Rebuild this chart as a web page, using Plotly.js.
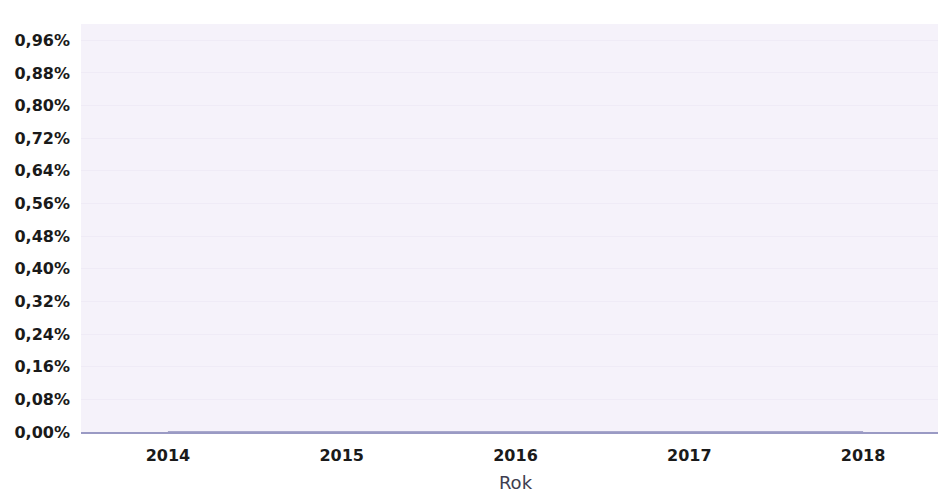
<!DOCTYPE html>
<html>
<head>
<meta charset="utf-8">
<script src="https://cdn.plot.ly/plotly-3.0.1.min.js"></script>
<style>html,body{margin:0;padding:0;background:#fff;overflow:hidden;}#chart{width:950px;height:500px;}</style>
</head>
<body>
<div id="chart"></div>
<script>
var years = ['2014', '2015', '2016', '2017', '2018'];
var values = [0, 0, 0, 0, 0];
var yTickVals = [0, 0.0008, 0.0016, 0.0024, 0.0032, 0.004, 0.0048, 0.0056, 0.0064, 0.0072, 0.008, 0.0088, 0.0096];
var xTitle = 'Rok';

var trace = {
  x: years,
  y: values,
  type: 'scatter',
  mode: 'lines',
  line: {color: '#8f8fbc', width: 1.5},
  cliponaxis: false,
  hoverinfo: 'skip'
};

var layout = {
  width: 950,
  height: 500,
  margin: {l: 81, r: 0, t: 24, b: 68},
  paper_bgcolor: '#ffffff',
  plot_bgcolor: '#f5f2fa',
  separators: ',.',
  showlegend: false,
  font: {family: 'DejaVu Sans, sans-serif', color: '#1a1a1a'},
  xaxis: {
    type: 'category',
    range: [-0.5, 4.5],
    showgrid: false,
    zeroline: false,
    showline: true,
    linecolor: '#9a9ac4',
    linewidth: 1.5,
    ticks: '',
    ticklabelstandoff: 8,
    tickfont: {size: 16, color: '#1a1a1a', family: 'DejaVu Sans, sans-serif', weight: 'bold'},
    title: {text: xTitle, font: {size: 18, color: '#3e3e50', family: 'DejaVu Sans, sans-serif'}, standoff: 12}
  },
  yaxis: {
    range: [0, 0.01],
    tickvals: yTickVals,
    tickformat: '.2%',
    showgrid: true,
    gridcolor: '#efebf6',
    gridwidth: 1,
    zeroline: false,
    showline: false,
    ticks: '',
    ticklabelstandoff: 10,
    tickfont: {size: 16, color: '#1a1a1a', family: 'DejaVu Sans, sans-serif', weight: 'bold'}
  }
};

Plotly.newPlot('chart', [trace], layout, {displayModeBar: false, staticPlot: true});
</script>
</body>
</html>
